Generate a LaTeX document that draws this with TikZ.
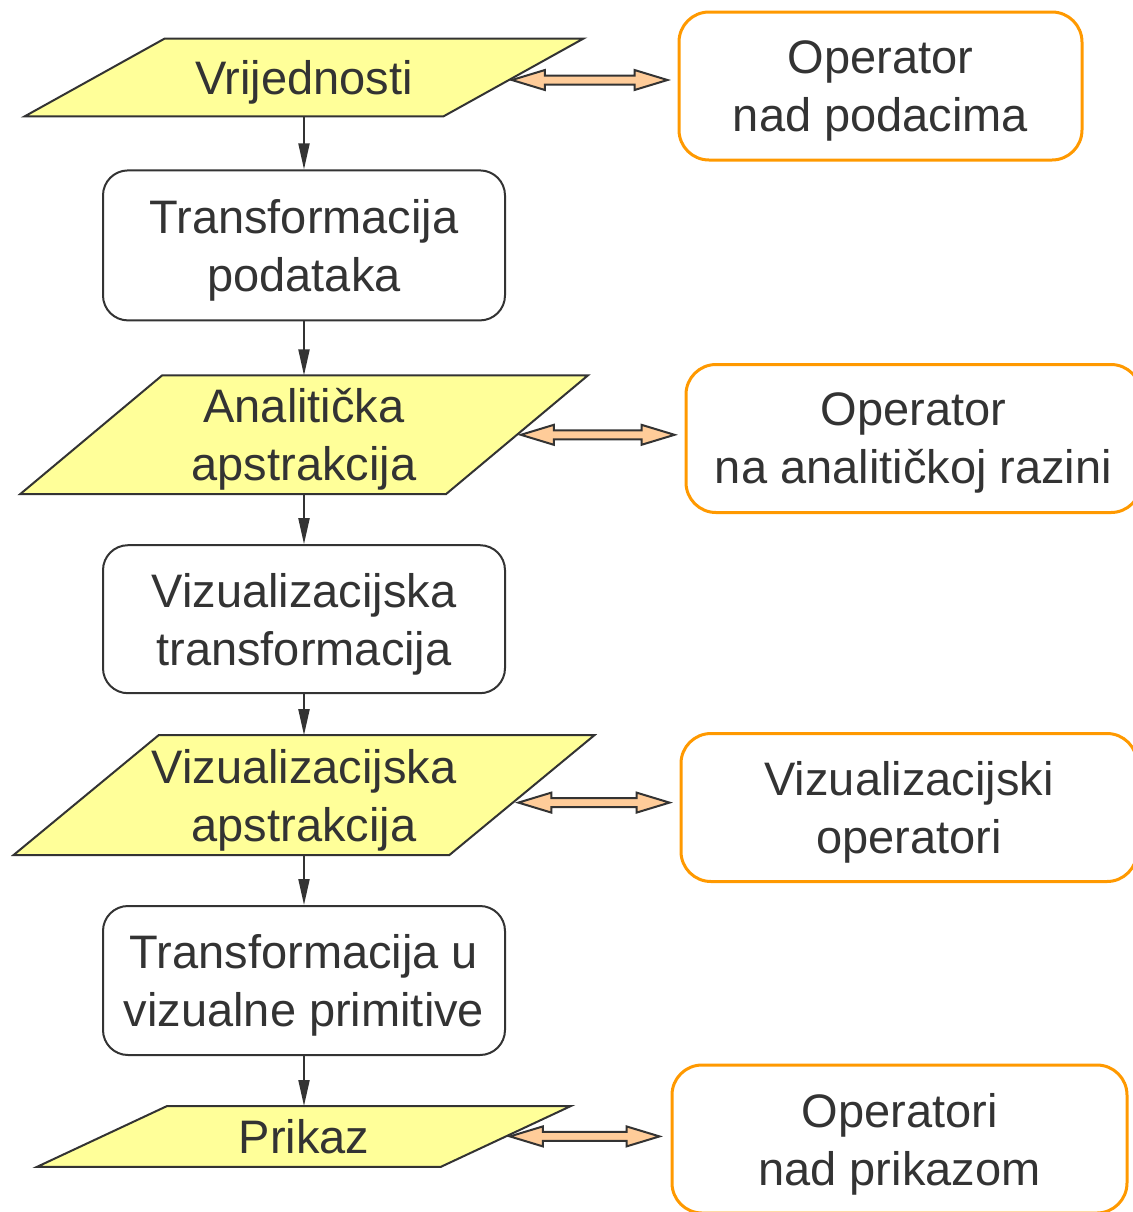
\documentclass[tikz,border=0pt]{standalone}
\usepackage{fontspec}
\setmainfont{Liberation Sans}
\usetikzlibrary{positioning}
\usetikzlibrary{arrows.meta, backgrounds}

\definecolor{ink}{HTML}{333333}
\definecolor{datayellow}{HTML}{FFFF99}
\definecolor{opborder}{HTML}{FF9900}
\definecolor{arrowfill}{HTML}{FFCC99}

% parallelogram behind a data node
\newcommand{\slantbg}[2]{%
  \begin{scope}[on background layer]
    \draw[datashape] ([xshift=-#2]#1.south west) -- ([xshift=-#2]#1.south east)
      -- ([xshift=#2]#1.north east) -- ([xshift=#2]#1.north west) -- cycle;
  \end{scope}}

\begin{document}
\begin{tikzpicture}[x=0.5pt, y=-0.5pt,
    every node/.style = {text=ink, font=\fontsize{23.5}{29}\selectfont, align=center, text depth=0pt},
    data/.style = {inner sep=0pt},
    datashape/.style = {draw=ink, fill=datayellow, line width=1pt},
    proc/.style = {draw=ink, line width=1pt, rounded corners=12.5pt, minimum width=201pt},
    oper/.style = {draw=opborder, line width=1.5pt, rounded corners=15pt, minimum height=74pt},
    flow/.style = {draw=ink, line width=1pt, -{Triangle[length=13pt, width=5.5pt]}},
    bidir/.style = {draw=ink, fill=arrowfill, line width=1pt,
      to path={-- ([shift={(16.5pt,5pt)}]\tikztostart) -- ([shift={(16.5pt,2.25pt)}]\tikztostart)
        -- ([shift={(-16.5pt,2.25pt)}]\tikztotarget) -- ([shift={(-16.5pt,5pt)}]\tikztotarget)
        -- (\tikztotarget) -- ([shift={(-16.5pt,-5pt)}]\tikztotarget)
        -- ([shift={(-16.5pt,-2.25pt)}]\tikztotarget) -- ([shift={(16.5pt,-2.25pt)}]\tikztostart)
        -- ([shift={(16.5pt,-5pt)}]\tikztostart) -- cycle}}]
    \useasboundingbox (0,0) rectangle (1132,1212);

    \node[data, minimum width=209pt, minimum height=38.5pt] (V1) at (304,77.5) {Vrijednosti};
    \node[proc, minimum height=75pt] (B1) [below=26.5pt of V1] {Transformacija\\podataka};
    \node[data, minimum width=212.5pt, minimum height=59pt] (V2) [below=27pt of B1] {Analitička\\apstrakcija};
    \node[proc, minimum height=74pt] (B2) [below=25pt of V2] {Vizualizacijska\\transformacija};
    \node[data, minimum width=217.5pt, minimum height=59.5pt] (V3) [below=20.5pt of B2] {Vizualizacijska\\apstrakcija};
    \node[proc, minimum height=74.5pt] (B3) [below=25pt of V3] {Transformacija u\\vizualne primitive};
    \node[data, minimum width=201.5pt, minimum height=30pt] (V4) [below=25pt of B3] {Prikaz};

    \slantbg{V1}{35pt}
    \slantbg{V2}{35.5pt}
    \slantbg{V3}{36.25pt}
    \slantbg{V4}{32.5pt}

    \node[oper, minimum width=201.5pt] (OpA) at (880.5,86) {Operator\\nad podacima};
    \node[oper, minimum width=227.5pt] (OpB) at (913.5,438.5) {Operator\\na analitičkoj razini};
    \node[oper, minimum width=228pt] (OpC) at (909,807.5) {Vizualizacijski\\operatori};
    \node[oper, minimum width=227.5pt] (OpD) at (899.5,1139) {Operatori\\nad prikazom};

    \draw[flow] (V1) -- (B1);
    \draw[flow] (B1) -- (V2);
    \draw[flow] (V2) -- (B2);
    \draw[flow] (B2) -- (V3);
    \draw[flow] (V3) -- (B3);
    \draw[flow] (B3) -- (V4);

    % ends of the double arrows
    \coordinate (a1) at ([xshift=-0.75pt, yshift=-1.25pt]V1.east);
    \coordinate (a2) at ([xshift=2pt]V2.east);
    \coordinate (a3) at ([xshift=-1.75pt, yshift=-3.75pt]V3.east);
    \coordinate (a4) at ([xshift=2pt]V4.east);
    \path (OpA.west |- a1) ++(-5pt,0) coordinate (b1);
    \path (OpB.west |- a2) ++(-5pt,0) coordinate (b2);
    \path (OpC.west |- a3) ++(-5pt,0) coordinate (b3);
    \path (OpD.west |- a4) ++(-5.5pt,0) coordinate (b4);

    \draw[bidir] (a1) to (b1);
    \draw[bidir] (a2) to (b2);
    \draw[bidir] (a3) to (b3);
    \draw[bidir] (a4) to (b4);
\end{tikzpicture}
\end{document}
